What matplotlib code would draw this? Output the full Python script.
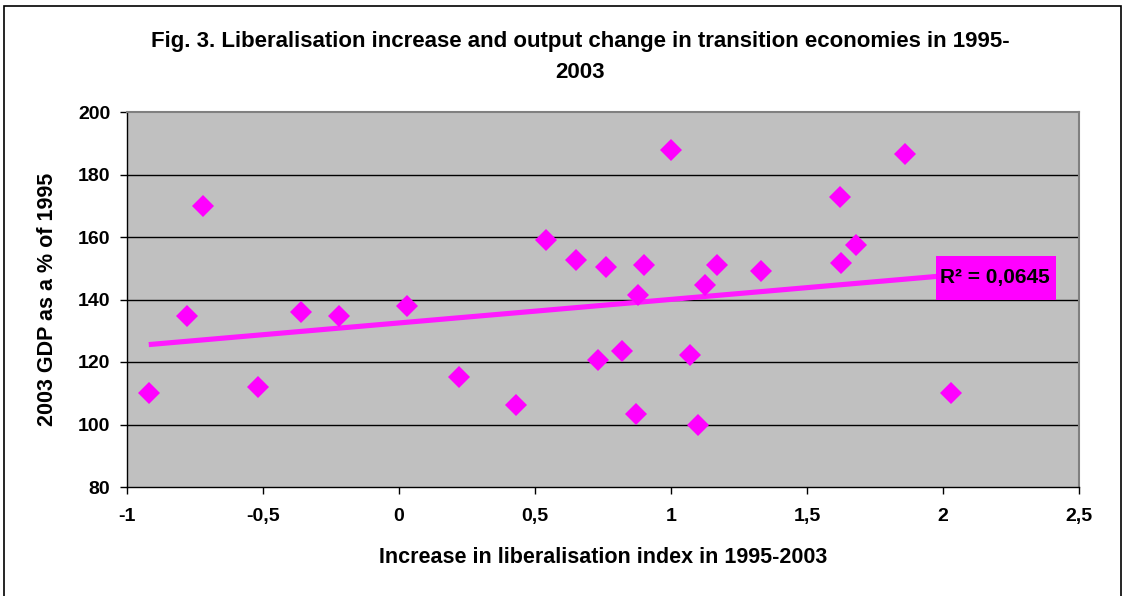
import numpy as np
import matplotlib
matplotlib.use("Agg")
import matplotlib.pyplot as plt
from matplotlib.ticker import FuncFormatter, MultipleLocator
from matplotlib.patches import Rectangle

# Data
lib_increase = [-0.92, -0.78, -0.72, -0.52, -0.36, -0.22, 0.03, 0.22, 0.43, 0.54,
                0.65, 0.76, 0.73, 0.82, 0.87, 0.88, 0.90, 1.00, 1.07, 1.10,
                1.125, 1.17, 1.33, 1.62, 1.625, 1.68, 1.86, 2.03]
gdp_2003 = [110.2, 134.6, 169.8, 112.1, 135.9, 134.6, 137.8, 115.2, 106.3, 159.0,
            152.5, 150.5, 120.8, 123.4, 103.4, 141.5, 151.1, 187.7, 122.2, 99.8,
            144.7, 151.1, 149.2, 172.9, 151.8, 157.5, 186.6, 110.0]
# linear trendline as shown in the reference (intercept, slope, x-extent)
trend_intercept = 132.5
trend_slope = 7.53
trend_x = [-0.92, 1.975]
r2_label = "R² = 0,0645"
title = "Fig. 3. Liberalisation increase and output change in transition economies in 1995-\n2003"
xlabel = "Increase in liberalisation index in 1995-2003"
ylabel = "2003 GDP as a % of 1995"

plt.rcParams['font.family'] = ['Liberation Sans', 'DejaVu Sans']
plt.rcParams['font.weight'] = 'bold'

W, H = 1126, 596
fig = plt.figure(figsize=(W / 100, H / 100), dpi=100)
fig.patch.set_facecolor('white')

# outer chart border
fig.patches.append(Rectangle((4 / W, -0.05), 1117 / W, 1.05 - 6 / H,
                             transform=fig.transFigure, fill=False,
                             edgecolor='black', linewidth=1.2))

ax = fig.add_axes([127 / W, 1 - 487 / H, (1079 - 127) / W, (487 - 112) / H])
ax.set_facecolor('#c0c0c0')
ax.set_xlim(-1, 2.5)
ax.set_ylim(80, 200)
ax.xaxis.set_major_locator(MultipleLocator(0.5))
ax.yaxis.set_major_locator(MultipleLocator(20))

fmt = FuncFormatter(lambda v, p: ('%g' % v).replace('.', ','))
ax.xaxis.set_major_formatter(fmt)
ax.yaxis.set_major_formatter(fmt)

for yv in range(100, 200, 20):
    ax.axhline(yv, color='black', linewidth=1.0, zorder=1)

for s in ['top', 'right']:
    ax.spines[s].set_color('#808080')
    ax.spines[s].set_linewidth(1.5)
for s in ['left', 'bottom']:
    ax.spines[s].set_color('black')
    ax.spines[s].set_linewidth(1.0)

ax.tick_params(axis='both', direction='out', length=5, width=1, colors='black',
               labelsize=14)
ax.tick_params(axis='x', pad=10)
ax.tick_params(axis='y', pad=7)
for lab in ax.get_xticklabels() + ax.get_yticklabels():
    lab.set_fontweight('bold')

x = np.array(lib_increase)
y = np.array(gdp_2003)

# trendline
xs = np.array(trend_x)
ax.plot(xs, trend_intercept + trend_slope * xs, color='#ff1aff', linewidth=3.7,
        solid_capstyle='butt', zorder=3)

ax.plot(x, y, linestyle='none', marker='D', markersize=10.8,
        markerfacecolor='#ff00ff', markeredgecolor='#ff00ff', markeredgewidth=0,
        zorder=4)

# R^2 label box
ax.add_patch(Rectangle((1.975, 139.7), 0.441, 14.1, facecolor='#ff00ff',
                       edgecolor='none', zorder=5))
ax.text(1.988, 146.9, r2_label, fontsize=15, fontweight='bold', color='black',
        va='center', ha='left', zorder=6)

ax.set_xlabel(xlabel, fontsize=15.5, fontweight='bold', labelpad=16)
ax.set_ylabel(ylabel, fontsize=15.5, fontweight='bold', labelpad=14)

fig.text(580 / W, 1 - 57 / H, title, fontsize=16, fontweight='bold',
         ha='center', va='center', linespacing=1.65)

fig.savefig('out.png', dpi=100, facecolor='white')
